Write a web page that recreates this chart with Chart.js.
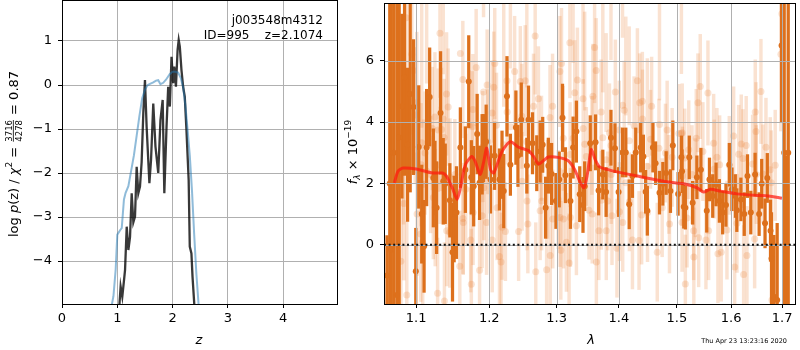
<!DOCTYPE html>
<html><head><meta charset="utf-8">
<script src="https://cdn.jsdelivr.net/npm/chart.js@4/dist/chart.umd.min.js"></script>
<style>
html,body{margin:0;padding:0;background:#fff;width:800px;height:350px;overflow:hidden}
#c1{position:absolute;left:0;top:0}
#c2{position:absolute;left:340px;top:0}
</style></head><body>
<canvas id="c1" width="340" height="350"></canvas>
<canvas id="c2" width="460" height="350"></canvas>
<script>
// ---------- LEFT PANEL DATA: log p(z) ----------
const leftXTicks = [0, 1, 2, 3, 4];
const leftXLabels = ['0', '1', '2', '3', '4'];
const leftYTicks = [-4, -3, -2, -1, 0, 1];
const leftYLabels = ['\u22124', '\u22123', '\u22122', '\u22121', '0', '1'];

const priorZ = [0.90,0.93,0.97,1.00,1.05,1.08,1.12,1.15,1.20,1.25,1.30,1.35,1.40,1.45,1.50,1.55,1.60,1.65,1.70,1.74,1.78,1.83,1.88,1.95,2.00,2.05,2.10,2.15,2.19,2.23,2.27,2.31,2.35,2.39,2.43,2.47];
const priorLogP = [-5.0,-4.8,-4.2,-3.4,-3.3,-3.25,-2.6,-2.45,-2.3,-1.95,-1.6,-1.15,-0.7,-0.3,-0.1,0.0,0.03,0.06,0.10,0.11,0.02,0.05,0.12,0.25,0.30,0.30,0.28,0.15,-0.05,-0.45,-1.0,-1.6,-2.4,-3.4,-4.3,-5.0];

const pzZ = [1.02,1.04,1.06,1.09,1.12,1.14,1.17,1.20,1.23,1.26,1.29,1.32,1.35,1.38,1.41,1.44,1.47,1.50,1.53,1.58,1.61,1.65,1.69,1.74,1.78,1.82,1.85,1.89,1.92,1.95,1.98,2.01,2.03,2.06,2.09,2.11,2.13,2.16,2.19,2.22,2.25,2.29,2.31,2.34,2.36,2.39,2.41];
const pzLogP = [-5.5,-4.96,-4.58,-4.81,-4.45,-4.2,-3.22,-3.75,-3.45,-2.46,-3.12,-2.99,-1.86,-2.46,-2.31,-1.75,-0.64,0.11,-0.95,-2.23,-1.70,-0.42,-1.40,-2.0,-0.80,-0.34,-2.46,-0.95,-0.04,-0.49,0.64,0.04,0.42,-0.04,0.80,1.02,0.87,0.34,-0.04,-0.27,-1.02,-2.16,-3.67,-3.83,-4.36,-4.95,-5.5];

// ---------- RIGHT PANEL DATA: spectrum ----------
const rightXTicks = [1.1, 1.2, 1.3, 1.4, 1.5, 1.6, 1.7];
const rightXLabels = ['1.1', '1.2', '1.3', '1.4', '1.5', '1.6', '1.7'];
const rightYTicks = [0, 2, 4, 6];
const rightYLabels = ['0', '2', '4', '6'];

const darkLam = [
1.0625,1.0660,1.0676,1.0710,1.0751,1.0780,1.0815,1.0849,1.0888,1.0922,
1.0965,1.0995,1.1034,1.1073,1.1104,1.1138,1.1178,1.1227,1.1249,1.1271,
1.1324,1.1360,1.1387,1.1450,1.1486,1.1508,1.1540,1.1594,1.1663,1.1710,
1.1746,1.1779,1.1828,1.1862,1.1898,1.1918,1.1955,1.2017,1.2075,1.2146,
1.2183,1.2208,1.2255,1.2305,1.2386,1.2416,1.2465,1.2548,1.2573,1.2633,
1.2697,1.2748,1.2787,1.2832,1.2873,1.2923,1.2990,1.3041,1.3092,1.3138,
1.3216,1.3258,1.3310,1.3363,1.3415,1.3442,1.3531,1.3617,1.3666,1.3735,
1.3789,1.3869,1.3935,1.3995,1.4061,1.4116,1.4173,1.4228,1.4284,1.4368,
1.4414,1.4453,1.4482,1.4579,1.4625,1.4693,1.4752,1.4810,1.4886,1.4928,
1.5022,1.5081,1.5093,1.5123,1.5152,1.5223,1.5284,1.5362,1.5435,1.5543,
1.5593,1.5654,1.5716,1.5778,1.5840,1.5902,1.5966,1.6016,1.6080,1.6109,
1.6187,1.6252,1.6315,1.6379,1.6463,1.6542,1.6593,1.6659,1.6704,1.6768,
1.6788,1.6835,1.6901,1.6990,1.7043,1.7090,1.7125];
const darkFlux = [
-1.00,2.00,-0.16,3.00,-1.64,3.50,4.52,5.46,3.26,4.92,
4.49,-0.86,3.19,1.00,-0.05,3.17,4.82,2.18,2.18,1.21,
4.30,2.07,1.99,1.45,-0.24,0.84,1.05,3.17,2.45,5.32,
2.20,1.91,3.61,2.02,2.95,3.15,3.36,2.13,2.90,2.13,
2.61,1.75,4.84,2.61,3.82,2.90,4.08,2.58,4.08,3.31,
2.66,3.04,3.26,1.21,2.58,2.31,1.43,2.13,4.14,2.27,
1.43,3.17,3.69,1.65,1.30,1.91,3.31,3.34,1.77,2.29,
1.72,3.49,3.15,1.72,3.01,3.01,1.32,2.24,3.01,3.17,
2.88,1.73,1.11,3.17,2.66,1.70,1.99,2.34,1.75,3.24,
1.66,2.85,2.40,1.24,1.21,2.85,1.37,2.20,2.45,1.11,
2.13,1.59,1.97,1.43,1.05,1.30,2.61,1.81,1.59,1.13,
1.48,1.00,2.24,1.05,2.29,1.00,1.99,0.70,2.18,0.46,
-0.45,-1.69,-1.80,6.50,3.00,0.00,3.00];
const darkErr = [
1.3,10,10,10,10,6.0,3.0,3.2,2.5,3.2,
2.2,1.4,2.0,1.6,1.5,1.9,1.6,1.6,1.2,1.5,
2.0,1.4,1.3,1.2,1.6,1.4,1.5,1.3,1.4,1.5,
1.2,1.3,1.3,1.2,1.3,1.1,1.2,1.1,1.1,1.0,
1.1,1.2,1.3,1.0,1.2,1.0,1.2,0.9,1.1,1.0,
0.9,1.0,0.9,1.0,0.9,1.0,0.9,0.9,1.1,0.9,
0.9,1.0,1.0,0.9,0.9,0.8,0.9,0.9,0.8,0.8,
0.8,0.9,0.8,0.8,0.8,0.8,0.8,0.7,0.8,0.8,
0.7,0.7,0.8,0.8,0.7,0.7,0.7,0.7,0.7,0.8,
0.7,0.7,0.7,0.7,0.7,0.7,0.7,0.7,0.7,0.7,
0.7,0.7,0.7,0.7,0.7,0.7,0.7,0.7,0.7,0.7,
0.7,0.7,0.7,0.7,0.7,0.7,0.8,0.8,0.8,1.0,
1.5,2.0,2.5,2.5,10,2.9,10];

const lightLam = [
1.0802,1.0836,1.0840,1.0870,1.0878,1.0943,1.0965,1.0987,1.1008,1.1012,
1.1060,1.1064,1.1073,1.1086,1.1095,1.1117,1.1138,1.1191,1.1214,1.1227,
1.1248,1.1252,1.1284,1.1293,1.1316,1.1318,1.1337,1.1360,1.1372,1.1376,
1.1405,1.1407,1.1427,1.1448,1.1452,1.1518,1.1586,1.1594,1.1628,1.1630,
1.1634,1.1668,1.1714,1.1737,1.1746,1.1760,1.1767,1.1771,1.1814,1.1862,
1.1898,1.1908,1.1918,1.1922,1.1961,1.1969,1.1979,1.2040,1.2042,1.2064,
1.2078,1.2103,1.2111,1.2146,1.2169,1.2183,1.2208,1.2232,1.2255,1.2258,
1.2305,1.2367,1.2426,1.2451,1.2474,1.2477,1.2524,1.2548,1.2551,1.2563,
1.2648,1.2673,1.2682,1.2722,1.2748,1.2769,1.2772,1.2847,1.2862,1.2899,
1.2902,1.2938,1.2941,1.3025,1.3051,1.3054,1.3066,1.3076,1.3103,1.3106,
1.3153,1.3195,1.3207,1.3210,1.3216,1.3258,1.3284,1.3310,1.3326,1.3415,
1.3418,1.3442,1.3468,1.3511,1.3558,1.3563,1.3574,1.3601,1.3627,1.3630,
1.3671,1.3708,1.3711,1.3735,1.3789,1.3792,1.3816,1.3844,1.3869,1.3872,
1.3886,1.3941,1.3968,1.4007,1.4010,1.4061,1.4064,1.4089,1.4116,1.4173,
1.4176,1.4228,1.4256,1.4312,1.4340,1.4350,1.4384,1.4396,1.4399,1.4482,
1.4485,1.4538,1.4556,1.4654,1.4684,1.4693,1.4740,1.4798,1.4828,1.4858,
1.4869,1.4916,1.5036,1.5081,1.5093,1.5096,1.5099,1.5141,1.5152,1.5182,
1.5213,1.5272,1.5303,1.5306,1.5332,1.5350,1.5381,1.5394,1.5423,1.5472,
1.5528,1.5565,1.5578,1.5671,1.5682,1.5732,1.5751,1.5783,1.5813,1.5921,
1.5965,1.6048,1.6068,1.6112,1.6144,1.6194,1.6227,1.6240,1.6290,1.6304,
1.6415,1.6454,1.6466,1.6480,1.6486,1.6578,1.6617,1.6677,1.6762,1.6782,
1.6796,1.6862,1.6976,1.6996];
const lightFlux = [
-0.54,3.47,1.35,7.40,-1.64,6.21,5.68,4.23,4.63,1.00,
0.35,2.61,3.33,0.08,1.97,2.99,2.40,2.29,3.79,1.54,
4.17,1.21,-1.58,3.74,6.90,2.59,3.76,4.10,3.50,-1.83,
4.92,0.46,4.49,0.41,2.21,2.29,-0.70,6.24,5.39,0.86,
0.73,1.81,3.88,0.16,-1.29,3.85,4.41,1.05,5.78,-0.83,
0.95,3.20,4.98,1.86,0.73,5.21,3.36,4.30,0.16,5.14,
5.91,3.90,1.21,-0.38,-0.56,0.57,3.26,0.43,5.35,4.33,
3.85,5.65,0.43,5.32,4.19,2.07,5.35,3.36,1.43,0.68,
4.52,6.81,-0.88,4.76,1.11,3.15,1.43,-0.81,1.81,4.15,
-0.35,4.52,0.84,1.48,5.65,0.89,-0.18,5.91,3.47,0.84,
0.08,-0.59,6.59,2.94,0.89,3.47,4.96,0.62,5.37,4.76,
3.79,3.28,2.88,1.13,3.24,1.00,4.84,6.43,5.68,-0.56,
0.46,4.33,1.45,3.49,2.77,0.46,1.43,3.65,3.24,2.29,
0.95,4.98,-0.11,3.74,1.08,4.55,0.73,4.39,2.02,3.39,
1.40,0.16,3.88,5.35,0.14,4.63,0.97,4.68,4.10,2.56,
1.05,3.44,4.52,-0.24,3.15,3.92,1.21,2.99,3.74,1.97,
0.68,2.85,3.63,3.63,0.73,3.65,2.24,2.83,-1.28,0.87,
3.10,2.29,0.46,-0.40,1.86,3.47,4.63,0.23,5.16,3.04,
0.16,4.95,0.46,3.31,2.47,2.85,-0.29,2.61,-0.24,0.48,
2.59,3.55,-0.72,0.70,2.95,3.29,2.81,-0.97,3.24,-0.35,
2.63,0.19,4.33,3.69,2.29,5.00,2.31,3.18,2.45,2.02,
-1.80,2.59,6.21,7.53];
const lightErr = [
2.6,2.8,2.5,3.0,2.4,2.6,2.4,2.2,2.3,2.0,
2.2,2.0,2.1,2.0,2.1,2.0,2.2,1.9,2.0,2.0,
2.1,1.9,1.8,2.0,2.1,1.9,2.0,2.0,1.9,1.9,
2.0,1.8,1.9,1.8,1.9,1.8,1.8,1.9,1.9,1.8,
1.7,1.8,1.8,1.7,1.8,1.8,1.8,1.7,1.9,1.7,
1.7,1.8,1.8,1.7,1.7,1.8,1.7,1.7,1.7,1.8,
1.8,1.7,1.7,1.7,1.6,1.7,1.7,1.6,1.8,1.7,
1.7,1.8,1.6,1.8,1.7,1.6,1.8,1.7,1.6,1.6,
1.7,1.9,1.6,1.7,1.6,1.7,1.6,1.6,1.6,1.7,
1.6,1.7,1.6,1.6,1.8,1.6,1.6,1.8,1.7,1.6,
1.6,1.6,1.8,1.7,1.6,1.7,1.7,1.6,1.7,1.7,
1.6,1.6,1.6,1.6,1.6,1.6,1.7,1.8,1.7,1.6,
1.6,1.7,1.6,1.6,1.6,1.6,1.6,1.6,1.6,1.6,
1.6,1.7,1.6,1.6,1.6,1.6,1.6,1.6,1.6,1.6,
1.6,1.6,1.6,1.7,1.6,1.6,1.6,1.6,1.6,1.6,
1.6,1.6,1.6,1.6,1.6,1.6,1.6,1.6,1.6,1.6,
1.6,1.6,1.6,1.6,1.6,1.6,1.6,1.6,1.6,1.6,
1.6,1.6,1.6,1.6,1.6,1.6,1.6,1.6,1.7,1.6,
1.6,1.7,1.6,1.6,1.6,1.6,1.6,1.6,1.6,1.6,
1.6,1.6,1.6,1.6,1.6,1.6,1.6,1.6,1.6,1.6,
1.6,1.6,1.7,1.6,1.6,1.7,1.6,1.6,1.7,1.7,
1.8,1.8,2.5,3.0];

const modelLam = [1.0719,1.0765,1.0829,1.1000,1.1218,1.1350,1.1403,1.1482,1.1549,1.1595,1.1663,1.1753,1.1800,1.1869,1.1916,1.1963,1.2017,1.2063,1.2111,1.2183,1.2305,1.2426,1.2573,1.2648,1.2722,1.2797,1.2873,1.3025,1.3181,1.3284,1.3363,1.3431,1.3484,1.3548,1.3613,1.3684,1.3821,1.3988,1.4312,1.4600,1.4958,1.5123,1.5362,1.5487,1.5609,1.5800,1.6112,1.6496,1.6728,1.6997];
const modelFlux = [2.02,2.40,2.50,2.47,2.34,2.34,2.24,1.86,1.48,1.86,2.61,2.88,2.72,2.29,2.66,3.15,2.45,2.34,2.61,3.04,3.36,3.18,3.07,2.88,2.63,2.74,2.86,2.85,2.74,2.45,2.07,1.86,2.29,3.10,2.77,2.54,2.45,2.37,2.24,2.13,2.02,1.99,1.86,1.72,1.81,1.75,1.66,1.61,1.59,1.52];

const zeroLevel = 0;
const rightXMin = 1.0587, rightXMax = 1.7284;
const rightYMin = -1.93, rightYMax = 7.85;
const leftXMin = 0, leftXMax = 4.99;
const leftYMin = -4.977, leftYMax = 1.909;

// ---------- helpers ----------
const FONT = '"DejaVu Sans", sans-serif';
Chart.defaults.font.family = FONT;
Chart.defaults.font.size = 13;
Chart.defaults.color = '#000';

const fixedTicks = vals => scale => { scale.ticks = vals.map(v => ({ value: v })); };
const labelCb = labels => (v, i) => labels[i];
const GRID = '#b0b0b0';

function drawRuns(ctx, runs, cx, cy) {
  ctx.save();
  ctx.translate(cx, cy);
  ctx.rotate(-Math.PI / 2);
  ctx.fillStyle = '#000';
  ctx.textBaseline = 'alphabetic';
  ctx.textAlign = 'left';
  const widths = runs.map(r => {
    ctx.font = r.font;
    if (r.num) return Math.max(ctx.measureText(r.num).width, ctx.measureText(r.den).width) + 2;
    return ctx.measureText(r.t).width;
  });
  let x = -widths.reduce((a, b) => a + b, 0) / 2;
  runs.forEach((r, i) => {
    ctx.font = r.font;
    if (r.num) {
      const w = widths[i];
      ctx.textAlign = 'center';
      ctx.fillText(r.num, x + w / 2, -5.8);
      ctx.fillText(r.den, x + w / 2, 4.2);
      ctx.fillRect(x + 1, -4.6, w - 2, 0.8);
      ctx.textAlign = 'left';
    } else {
      ctx.fillText(r.t, x, r.dy || 0);
    }
    x += widths[i];
  });
  ctx.restore();
}

function frame(ctx, a) {
  ctx.save();
  ctx.strokeStyle = '#000';
  ctx.lineWidth = 1;
  const l = Math.round(a.left) + 0.5, t = Math.round(a.top) - 0.5;
  const r = Math.round(a.right) - 0.5, b = Math.round(a.bottom) + 0.5;
  ctx.strokeRect(l, t, r - l, b - t);
  ctx.restore();
}

const N = '13px ' + FONT, I = 'italic 13px ' + FONT, S = '9px ' + FONT, SI = 'italic 9px ' + FONT, F = '8.5px ' + FONT;

// ---------- LEFT CHART ----------
const leftDeco = {
  id: 'leftDeco',
  afterDraw(chart) {
    const ctx = chart.ctx, a = chart.chartArea;
    frame(ctx, a);
    ctx.save();
    ctx.fillStyle = '#000';
    ctx.font = '12px ' + FONT;
    ctx.textAlign = 'right';
    ctx.textBaseline = 'alphabetic';
    ctx.fillText('j003548m4312', 323, 24);
    ctx.fillText('ID=995    z=2.1074', 323, 39);
    ctx.font = I;
    ctx.textAlign = 'center';
    ctx.fillText('z', 199, 344);
    ctx.restore();
    drawRuns(ctx, [
      { t: 'log ', font: N }, { t: 'p', font: I }, { t: '(z) / ', font: N },
      { t: '\u03c7', font: I }, { t: '2', font: S, dy: -6 }, { t: ' = ', font: N },
      { num: '3716', den: '4278', font: F }, { t: ' = 0.87', font: N }
    ], 17.5, 154);
  }
};

new Chart(document.getElementById('c1'), {
  type: 'line',
  data: {
    datasets: [
      { data: priorZ.map((z, i) => ({ x: z, y: priorLogP[i] })), borderColor: 'rgba(31,119,180,0.5)', borderWidth: 2, pointRadius: 0, tension: 0, clip: 0 },
      { data: pzZ.map((z, i) => ({ x: z, y: pzLogP[i] })), borderColor: 'rgba(0,0,0,0.78)', borderWidth: 2.3, pointRadius: 0, tension: 0, clip: 0 }
    ]
  },
  options: {
    responsive: false, animation: false, events: [],
    layout: { padding: { left: 0, right: 2, top: 1, bottom: 0 } },
    plugins: { legend: { display: false }, tooltip: { enabled: false } },
    scales: {
      x: {
        type: 'linear', min: leftXMin, max: leftXMax,
        afterBuildTicks: fixedTicks(leftXTicks),
        afterFit(s) { s.height = 46; s.paddingLeft = 0; s.paddingRight = 0; },
        ticks: { callback: labelCb(leftXLabels), autoSkip: false, maxRotation: 0, padding: 3 },
        grid: { color: GRID, lineWidth: 1, tickColor: '#000', tickLength: 4 },
        border: { display: false }
      },
      y: {
        type: 'linear', min: leftYMin, max: leftYMax,
        afterBuildTicks: fixedTicks(leftYTicks),
        afterFit(s) { s.width = 62; s.paddingTop = 0; s.paddingBottom = 0; },
        ticks: { callback: labelCb(leftYLabels), autoSkip: false, padding: 6 },
        grid: { color: GRID, lineWidth: 1, tickColor: '#000', tickLength: 4 },
        border: { display: false }
      }
    }
  },
  plugins: [leftDeco]
});

// ---------- RIGHT CHART ----------
const DARK = 'rgb(221,112,28)';
const LIGHT = 'rgba(232,125,45,0.22)';

const rightDeco = {
  id: 'rightDeco',
  afterDatasetDraw(chart, args) {
    if (args.index !== 3) return;
    const ctx = chart.ctx, a = chart.chartArea, xs = chart.scales.x, ys = chart.scales.y;
    ctx.save();
    ctx.beginPath(); ctx.rect(a.left, a.top, a.right - a.left, a.bottom - a.top); ctx.clip();
    ctx.strokeStyle = GRID; ctx.lineWidth = 1;
    rightXTicks.forEach(v => {
      const p = Math.round(xs.getPixelForValue(v)) + 0.5;
      ctx.beginPath(); ctx.moveTo(p, a.top); ctx.lineTo(p, a.bottom); ctx.stroke();
    });
    rightYTicks.forEach(v => {
      const p = Math.round(ys.getPixelForValue(v)) + 0.5;
      ctx.beginPath(); ctx.moveTo(a.left, p); ctx.lineTo(a.right, p); ctx.stroke();
    });
    ctx.restore();
  },
  afterDraw(chart) {
    const ctx = chart.ctx, a = chart.chartArea;
    frame(ctx, a);
    ctx.save();
    ctx.fillStyle = '#000';
    ctx.font = I; ctx.textAlign = 'center'; ctx.textBaseline = 'alphabetic';
    ctx.fillText('\u03bb', 251, 344);
    ctx.font = '6.5px ' + FONT; ctx.textAlign = 'right';
    ctx.fillText('Thu Apr 23 13:23:16 2020', 447, 343);
    ctx.restore();
    drawRuns(ctx, [
      { t: 'f', font: I }, { t: '\u03bb', font: SI, dy: 3 }, { t: ' \u00d7 10', font: N }, { t: '\u221219', font: S, dy: -6 }
    ], 17, 152);
  }
};

const err = (lam, flux, e) => lam.map((l, i) => ({ x: l, y: [flux[i] - e[i], flux[i] + e[i]] }));
const pts = (lam, flux) => lam.map((l, i) => ({ x: l, y: flux[i] }));

new Chart(document.getElementById('c2'), {
  type: 'bar',
  data: {
    datasets: [
      { type: 'bar', data: err(lightLam, lightFlux, lightErr), backgroundColor: LIGHT, borderWidth: 0, barThickness: 2.8, stack: 'e', order: 6, clip: 0 },
      { type: 'scatter', data: pts(lightLam, lightFlux), pointRadius: 3.5, pointBackgroundColor: LIGHT, pointBorderWidth: 0, order: 5, clip: 0 },
      { type: 'bar', data: err(darkLam, darkFlux, darkErr), backgroundColor: DARK, borderWidth: 0, barThickness: 2.6, stack: 'e', order: 4, clip: 0 },
      { type: 'scatter', data: pts(darkLam, darkFlux), pointRadius: 3, pointBackgroundColor: DARK, pointBorderWidth: 0, order: 3, clip: 0 },
      { type: 'line', data: pts(modelLam, modelFlux), borderColor: 'rgba(255,25,15,0.72)', borderWidth: 3, pointRadius: 0, tension: 0.25, order: 2, clip: 0 },
      { type: 'line', data: [{ x: rightXMin, y: zeroLevel }, { x: rightXMax, y: zeroLevel }], borderColor: '#111', borderWidth: 2, borderDash: [2, 2.6], pointRadius: 0, order: 1, clip: 0 }
    ]
  },
  options: {
    responsive: false, animation: false, events: [],
    layout: { padding: { left: 0, right: 1, top: 1, bottom: 0 } },
    plugins: { legend: { display: false }, tooltip: { enabled: false } },
    scales: {
      x: {
        type: 'logarithmic', min: rightXMin, max: rightXMax, offset: false,
        afterBuildTicks: fixedTicks(rightXTicks),
        afterFit(s) { s.height = 46; s.paddingLeft = 0; s.paddingRight = 0; },
        ticks: { callback: labelCb(rightXLabels), autoSkip: false, maxRotation: 0, padding: 3 },
        grid: { drawOnChartArea: false, offset: false, tickColor: '#000', tickLength: 4 },
        border: { display: false }
      },
      y: {
        type: 'linear', min: rightYMin, max: rightYMax,
        afterBuildTicks: fixedTicks(rightYTicks),
        afterFit(s) { s.width = 44; s.paddingTop = 0; s.paddingBottom = 0; },
        ticks: { callback: labelCb(rightYLabels), autoSkip: false, padding: 6 },
        grid: { drawOnChartArea: false, tickColor: '#000', tickLength: 4 },
        border: { display: false }
      }
    }
  },
  plugins: [rightDeco]
});
</script>
</body></html>
